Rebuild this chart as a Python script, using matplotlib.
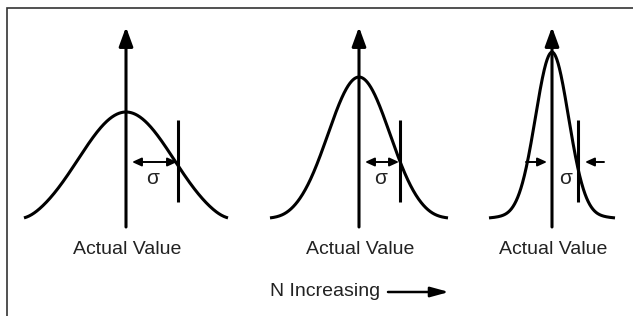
import numpy as np
import matplotlib
matplotlib.use("Agg")
import matplotlib.pyplot as plt

plt.rcParams['font.family'] = ['Liberation Sans', 'DejaVu Sans']

# three normal curves, narrowing as N grows (pixel units of the 633x316 canvas)
centers = [126, 359, 552]          # x of "Actual Value" axis
heights = [108, 143, 168]          # peak height above the base
widths = [48, 31, 16.5]            # gaussian width of each drawn curve
skirts = [0, 2, 10]                # straight tail that each curve rests on
half_spans = [102, 89, 63]         # how far each curve runs to either side
sigma_offsets = [52, 41, 26]       # x distance of the sigma marker from centre
labels = ["Actual Value", "Actual Value", "Actual Value"]
footer = "N Increasing"

BASE = 220
INK = "black"
TXT = "#222222"

fig = plt.figure(figsize=(6.33, 3.16), dpi=100)
ax = fig.add_axes([0, 0, 1, 1])
ax.set_xlim(0, 633)
ax.set_ylim(316, 0)
ax.axis("off")

# frame (only top and left edges show in the crop)
ax.plot([7, 7, 640], [330, 7.5, 7.5], color="#333333", lw=1.2, solid_joinstyle="miter")

k = 3.0  # softness of the knee at the tails
for i, c in enumerate(centers):
    H, s, L, so, sk = heights[i], widths[i], half_spans[i], sigma_offsets[i], skirts[i]
    dx = np.linspace(-L, L, 400)
    eL = np.exp(-L ** 2 / (2 * s ** 2))
    A = (H - sk) / (1 - eL)
    h = A * (np.exp(-dx ** 2 / (2 * s ** 2)) - eL) + sk * (1 - np.abs(dx) / L)
    h = k * np.logaddexp(0, h / k)
    ax.plot(c + dx, BASE - h, color=INK, lw=2.2, solid_capstyle="butt")

    # vertical axis with arrow
    ax.annotate("", xy=(c, 27), xytext=(c, 227),
                arrowprops=dict(arrowstyle="-|>,head_length=1.15,head_width=0.42",
                                color=INK, lw=2.2, shrinkA=0, shrinkB=0,
                                mutation_scale=10))
    # sigma marker line
    ax.plot([c + so, c + so], [120, 202], color=INK, lw=2.2, solid_capstyle="butt")

    if i < 2:
        ax.annotate("", xy=(c + 6, 162), xytext=(c + so - 1, 162),
                    arrowprops=dict(arrowstyle="<|-|>,head_length=0.55,head_width=0.25",
                                    color=INK, lw=1.4, shrinkA=0, shrinkB=0,
                                    mutation_scale=10))
    else:
        ax.annotate("", xy=(c - 5, 162), xytext=(c - so, 162),
                    arrowprops=dict(arrowstyle="-|>,head_length=0.55,head_width=0.25",
                                    color=INK, lw=1.4, shrinkA=0, shrinkB=0,
                                    mutation_scale=10))
        ax.annotate("", xy=(c + so + 7, 162), xytext=(c + so + 26, 162),
                    arrowprops=dict(arrowstyle="-|>,head_length=0.55,head_width=0.25",
                                    color=INK, lw=1.4, shrinkA=0, shrinkB=0,
                                    mutation_scale=10))
    ax.text(c + so / 2 + 1, 178, "σ", ha="center", va="center",
            fontsize=15, color=TXT)

    ax.text(c + 1, 249, labels[i], ha="center", va="center",
            fontsize=14, color=TXT)

ax.text(325, 291, footer, ha="center", va="center", fontsize=14, color=TXT)
ax.annotate("", xy=(449, 292), xytext=(388, 292),
            arrowprops=dict(arrowstyle="-|>,head_length=1.1,head_width=0.3",
                            color=INK, lw=1.8, shrinkA=0, shrinkB=0,
                            mutation_scale=10))

fig.savefig("out.png", dpi=100)
